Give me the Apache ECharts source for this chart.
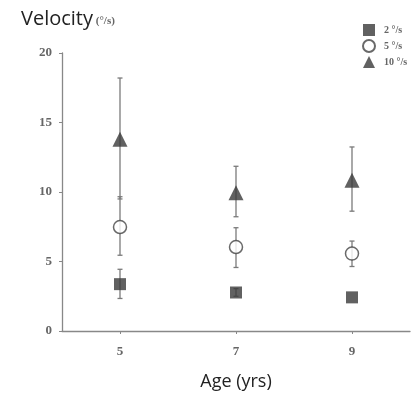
<!DOCTYPE html>
<html>
<head>
<meta charset="utf-8">
<script src="https://cdn.jsdelivr.net/npm/echarts@6/dist/echarts.min.js"></script>
<style>html,body{margin:0;padding:0;background:#fff}#c{width:418px;height:396px}</style>
</head>
<body>
<div id="c"></div>
<script>
var ages = [5, 7, 9];
var xTicks = [5, 7, 9];
var seriesNames = ['2 °/s', '5 °/s', '10 °/s'];
var mean2 = [3.37, 2.77, 2.42];
var lo2 = [2.34, 2.5, 2.42];
var hi2 = [4.44, 3.05, 2.42];
var mean5 = [7.48, 6.04, 5.57];
var lo5 = [5.45, 4.57, 4.64];
var hi5 = [9.66, 7.43, 6.47];
var mean10 = [13.8, 9.94, 10.85];
var lo10 = [9.5, 8.22, 8.62];
var hi10 = [18.2, 11.85, 13.24];

function pts(m){ return ages.map(function(a,i){ return [a, m[i]]; }); }
function bars(lo, hi){ return ages.map(function(a,i){ return [a, lo[i], hi[i]]; }); }

function errSeries(lo, hi){
  return {
    type: 'custom',
    silent: true,
    z: 1,
    data: bars(lo, hi),
    renderItem: function(params, api){
      var x = api.value(0);
      var a = api.coord([x, api.value(1)]);
      var b = api.coord([x, api.value(2)]);
      if (Math.abs(a[1]-b[1]) < 0.5) return null;
      var w = 2.5;
      var st = {stroke: '#7a7a7a', lineWidth: 1.3};
      return {type: 'group', children: [
        {type: 'line', shape: {x1: a[0], y1: a[1], x2: b[0], y2: b[1]}, style: st},
        {type: 'line', shape: {x1: a[0]-w, y1: a[1], x2: a[0]+w, y2: a[1]}, style: st},
        {type: 'line', shape: {x1: b[0]-w, y1: b[1], x2: b[0]+w, y2: b[1]}, style: st}
      ]};
    }
  };
}

var chart = echarts.init(document.getElementById('c'));
chart.setOption({
  backgroundColor: '#fff',
  animation: false,
  title: {
    text: '{a|Velocity}{b| (°/s)}',
    left: 16, top: 4,
    textStyle: {
      rich: {
        a: {fontFamily: 'Open Sans', fontSize: 20, fontWeight: 'normal', color: '#222'},
        b: {fontFamily: 'Liberation Serif', fontSize: 11, color: '#666', fontWeight: 'bold', padding: [4,0,0,0]}
      }
    }
  },
  legend: {
    data: seriesNames,
    orient: 'vertical',
    left: 357, top: 19,
    itemWidth: 12, itemHeight: 12, itemGap: 3,
    textStyle: {fontFamily: 'Liberation Serif', fontSize: 10, fontWeight: 'bold', color: '#666', padding: [0,0,0,4]}
  },
  grid: {left: 62, right: 8, top: 53, bottom: 64},
  xAxis: {
    type: 'value', min: 4, max: 10,
    name: 'Age (yrs)', nameLocation: 'middle', nameGap: 42,
    nameTextStyle: {fontFamily: 'Open Sans', fontSize: 18, color: '#222'},
    axisLine: {lineStyle: {color: '#888', width: 1.3}},
    axisTick: {customValues: xTicks, length: 3, lineStyle: {color: '#888'}},
    axisLabel: {customValues: xTicks, fontFamily: 'Liberation Serif', fontSize: 13, fontWeight: 'bold', color: '#666', margin: 14},
    splitLine: {show: false}
  },
  yAxis: {
    type: 'value', min: 0, max: 20, interval: 5,
    axisLine: {show: true, lineStyle: {color: '#888', width: 1.3}},
    axisTick: {show: true, length: 3, lineStyle: {color: '#888'}},
    axisLabel: {fontFamily: 'Liberation Serif', fontSize: 13, fontWeight: 'bold', color: '#666', margin: 10},
    splitLine: {show: false}
  },
  series: [
    errSeries(lo2, hi2),
    errSeries(lo5, hi5),
    errSeries(lo10, hi10),
    {name: seriesNames[0], type: 'scatter', z: 3, symbol: 'rect', symbolSize: 12,
     itemStyle: {color: '#3a3a3a'}, data: pts(mean2)},
    {name: seriesNames[1], type: 'scatter', z: 3, symbol: 'circle', symbolSize: 13,
     itemStyle: {color: '#fff', borderColor: '#444', borderWidth: 1.5}, data: pts(mean5)},
    {name: seriesNames[2], type: 'scatter', z: 3, symbol: 'triangle', symbolSize: 15,
     itemStyle: {color: '#3a3a3a'}, data: pts(mean10)}
  ]
});
</script>
</body>
</html>
